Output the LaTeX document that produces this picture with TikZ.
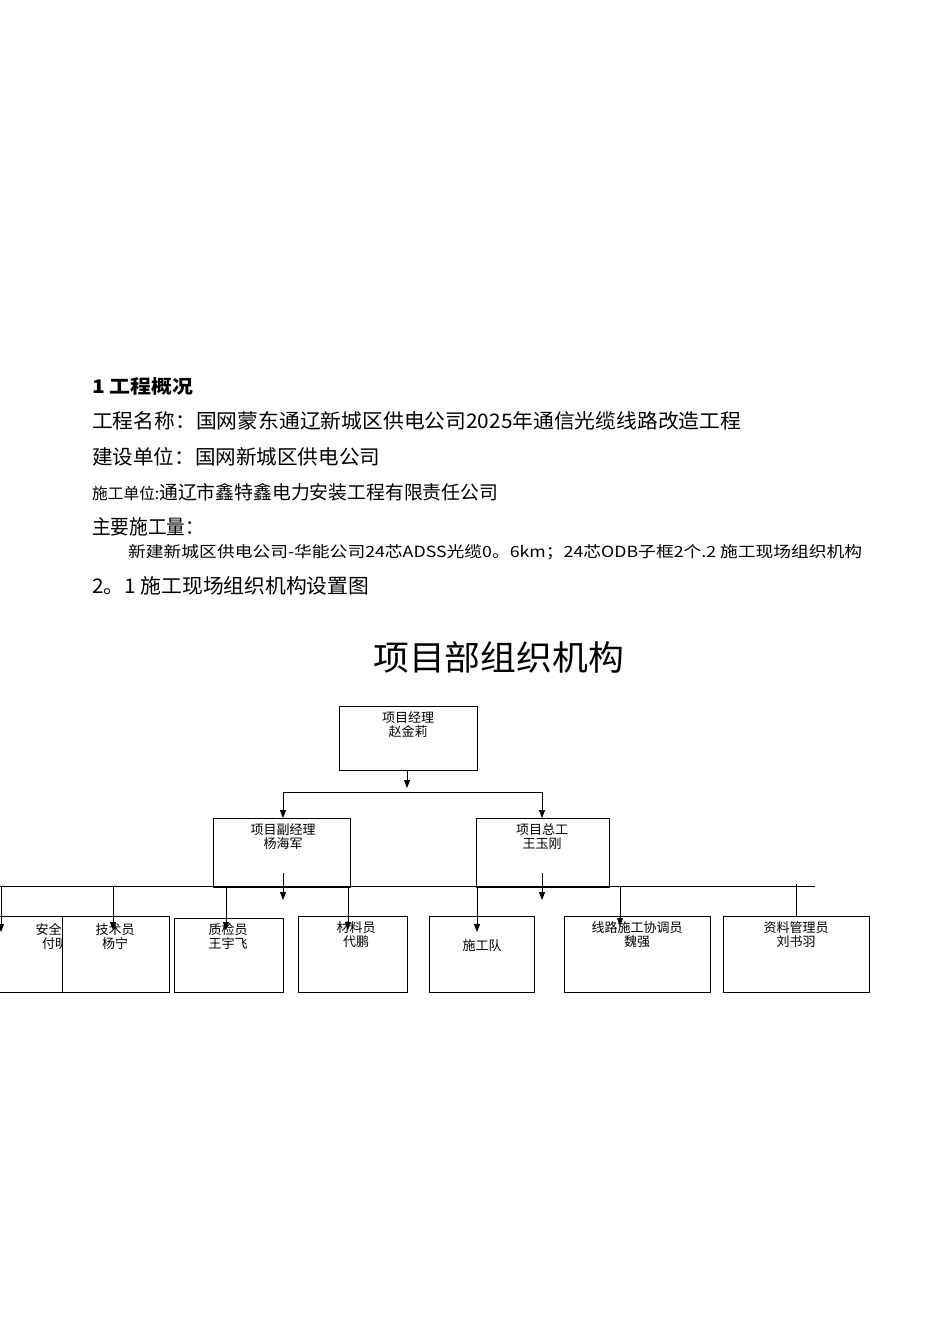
\documentclass[tikz,border=0pt]{standalone}
\usepackage{fontspec}
\setmainfont{Liberation Serif}
\newfontfamily\cjk{Noto Sans CJK SC}
\usetikzlibrary{arrows.meta}
\begin{document}
\begin{tikzpicture}[x=1pt,y=-1pt,
  line/.style={anchor=base west,inner sep=0pt},
  box/.style={draw,line width=1pt,fill=white,inner sep=0pt},
  btext/.style={font=\cjk\fontsize{13}{14}\selectfont,align=center,anchor=north,inner sep=0pt},
  arr/.style={-{Triangle[length=8pt,width=6pt]},line width=0.8pt},
  conn/.style={line width=0.8pt}]
\useasboundingbox (0,0) rectangle (950,1344);
\node[line] (t1) at (92,393) {\resizebox{101pt}{16pt}{\cjk\bfseries 1 工程概况}};
\node[line] (t2) at (92,428) {\resizebox{649pt}{17pt}{\cjk 工程名称：国网蒙东通辽新城区供电公司2025年通信光缆线路改造工程}};
\node[line] (t3) at (92,464) {\resizebox{288pt}{17pt}{\cjk 建设单位：国网新城区供电公司}};
\node[line] (t4) at (92,499) {\resizebox{406pt}{16pt}{\cjk 施工单位:\fontsize{12}{12}\selectfont 通辽市鑫特鑫电力安装工程有限责任公司}};
\node[line] (t5) at (92,534) {\resizebox{112pt}{17pt}{\cjk 主要施工量：}};
\node[line] (t6) at (128,557) {\resizebox{734pt}{13pt}{\cjk 新建新城区供电公司-华能公司24芯ADSS光缆0。6km；24芯ODB子框2个.2 施工现场组织机构}};
\node[line] (t7) at (92,593) {\resizebox{277pt}{17pt}{\cjk 2。1 施工现场组织机构设置图}};
\node[line] (title) at (373,670) {\resizebox{251pt}{29pt}{\cjk 项目部组织机构}};

% boxes
\draw[box] (339,706) rectangle (477,770);
\node[btext] (pm) at (408,711) {项目经理\\赵金莉};
\draw[box] (213,818) rectangle (350,887);
\node[btext] (dpm) at (283,823) {项目副经理\\杨海军};
\draw[box] (476,818) rectangle (609,887);
\node[btext] (ce) at (542,823) {项目总工\\王玉刚};

\draw[conn] (0,886) -- (815,886);
\draw[box] (-2,916) rectangle (112,992);
\node[btext] (aq) at (55,923) {安全员\\付明};
\draw[box] (62,916) rectangle (169,992);
\node[btext] (js) at (115,923) {技术员\\杨宁};
\draw[box] (174,918) rectangle (283,992);
\node[btext] (zj) at (228,923) {质检员\\王宇飞};
\draw[box] (298,916) rectangle (407,992);
\node[btext] (cl) at (356,921) {材料员\\代鹏};
\draw[box] (429,916) rectangle (534,992);
\node[btext] (sg) at (482,939) {施工队};
\draw[box] (564,916) rectangle (710,992);
\node[btext] (xl) at (637,921) {线路施工协调员\\魏强};
\draw[box] (723,916) rectangle (869,992);
\node[btext] (zl) at (796,921) {资料管理员\\刘书羽};

% connectors
\coordinate (j) at (407,792);
\draw[arr] (407,770) -- (407,788);
\draw[conn] (283,792) -- (542,792);
\draw[arr] (283,792) -- (283,818);
\draw[arr] (542,792) -- (542,818);
\draw[arr] (283,873) -- (283,900);
\draw[arr] (542,873) -- (542,900);
\draw[arr] (1,886) -- (1,932);
\draw[arr] (113,886) -- (113,930);
\draw[arr] (226,886) -- (226,930);
\draw[arr] (348,886) -- (348,930);
\draw[arr] (477,886) -- (477,932);
\draw[arr] (620,886) -- (620,926);
\draw[conn] (796,884) -- (796,916);
\end{tikzpicture}
\end{document}
